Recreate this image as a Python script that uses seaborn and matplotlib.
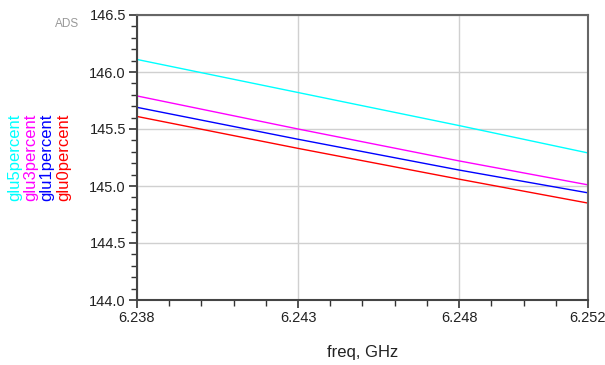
import numpy as np
import pandas as pd
import seaborn as sns
import matplotlib
matplotlib.use("Agg")
import matplotlib.pyplot as plt
from matplotlib.ticker import MultipleLocator, FixedLocator

freq = [6.238, 6.243, 6.248, 6.252]
glu5percent = [146.11, 145.82, 145.53, 145.29]
glu3percent = [145.79, 145.50, 145.22, 145.01]
glu1percent = [145.69, 145.41, 145.14, 144.94]
glu0percent = [145.61, 145.33, 145.06, 144.85]
series_names = ["glu5percent", "glu3percent", "glu1percent", "glu0percent"]
series_colors = ["#00ffff", "#ff00ff", "#0000ff", "#ff0000"]
x_ticks = [6.238, 6.243, 6.248, 6.252]
y_ticks = [144.0, 144.5, 145.0, 145.5, 146.0, 146.5]

sns.set_theme(style="white")
plt.rcParams['font.family'] = ['Liberation Sans', 'DejaVu Sans']

rows = []
for name, vals in zip(series_names, [glu5percent, glu3percent, glu1percent, glu0percent]):
    for f, v in zip(freq, vals):
        rows.append({"freq": f, "value": v, "series": name})
df = pd.DataFrame(rows)

fig = plt.figure(figsize=(6.05, 3.65), dpi=100)
ax = fig.add_axes([137/605, 65/365, (588-137)/605, (300-15)/365])

sns.lineplot(data=df, x="freq", y="value", hue="series", hue_order=series_names,
             palette=series_colors, ax=ax, legend=False, linewidth=1.0)

ax.set_xlim(6.238, 6.252)
ax.set_ylim(144.0, 146.5)
ax.xaxis.set_major_locator(FixedLocator(x_ticks))
ax.xaxis.set_minor_locator(MultipleLocator(0.001))
ax.yaxis.set_major_locator(FixedLocator(y_ticks))
ax.yaxis.set_minor_locator(MultipleLocator(0.1))
ax.set_xticklabels([f"{t:.3f}" for t in x_ticks])
ax.set_yticklabels([f"{t:.1f}" for t in y_ticks])
ax.grid(True, which="major", color="#d0d0d0", linewidth=1.0)
ax.set_axisbelow(True)

for s in ax.spines.values():
    s.set_color("#444444")
    s.set_linewidth(1.5)
ax.spines['top'].set_color("#666666")
ax.spines['right'].set_color("#666666")

ax.tick_params(which="major", direction="out", length=6, width=1.2, color="#333333",
               labelsize=10.5, labelcolor="#222222", bottom=True, left=True, pad=2)
ax.tick_params(which="minor", direction="out", length=4, width=1.0, color="#333333",
               bottom=True, left=True)
ax.set_xlabel("freq, GHz", fontsize=12, color="#222222", labelpad=14)
ax.set_ylabel("")

# rotated legend texts
xs = [15, 31, 47, 64]
for name, col, xp in zip(series_names, series_colors, xs):
    fig.text(xp/605, 1 - 201/365, name, rotation=90, color=col, fontsize=12,
             ha="center", va="bottom")

fig.text(67/605, 1 - 24/365, "ADS", color="#999999", fontsize=8.5, ha="center",
         va="center")

fig.savefig("out.png", dpi=100)
